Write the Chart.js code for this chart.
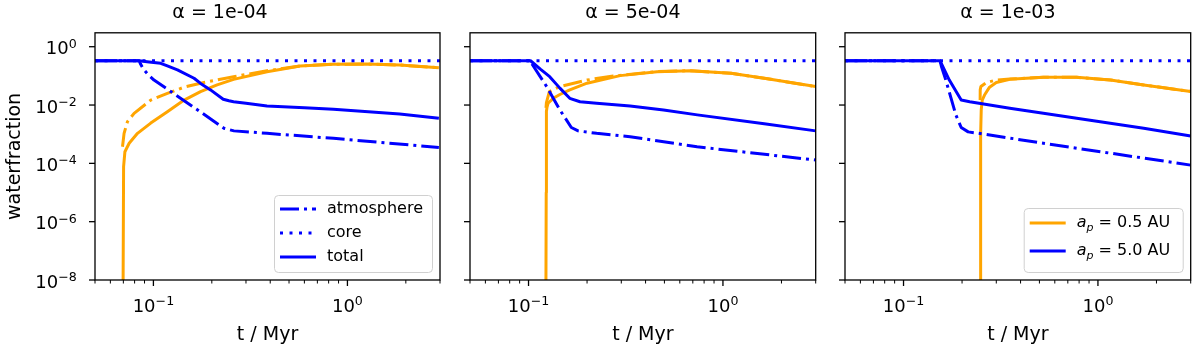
<!DOCTYPE html>
<html>
<head>
<meta charset="utf-8">
<script src="https://cdn.jsdelivr.net/npm/chart.js@4.4.1/dist/chart.umd.min.js"></script>
<style>
  html, body { margin: 0; padding: 0; background: #fff; }
  #wrap { position: relative; width: 1200px; height: 353px; }
  .panel { position: absolute; top: 0; height: 353px; }
</style>
</head>
<body>
<div id="wrap">
  <div class="panel" style="left:0;width:450px"><canvas id="c1" width="450" height="353"></canvas></div>
  <div class="panel" style="left:450px;width:375px"><canvas id="c2" width="375" height="353"></canvas></div>
  <div class="panel" style="left:825px;width:375px"><canvas id="c3" width="375" height="353"></canvas></div>
</div>
<script>
// axis ticks (labels are 10^exponent)
const xTickValues = [0.05, 0.06, 0.07, 0.08, 0.09, 0.1, 0.2, 0.3, 0.4, 0.5, 0.6, 0.7, 0.8, 0.9, 1, 2, 3];
const xMajorValues = [0.1, 1];
const xMajorExps = ['−1', '0'];
const yTickValues = [1e-8, 1e-6, 1e-4, 1e-2, 1];
const yTickExps = ['−8', '−6', '−4', '−2', '0'];
const panelTitles = ['α = 1e-04', 'α = 5e-04', 'α = 1e-03'];

// core water fraction (a_p = 5.0 AU)
const coreTime = [0.05, 3.0];
const coreWater = [0.33, 0.33];

// alpha = 1e-04, a_p = 5.0 AU
const a1FarTotalT = [0.05, 0.0844, 0.095, 0.109, 0.118, 0.133, 0.162, 0.175, 0.197, 0.229, 0.245, 0.259, 0.3, 0.385, 0.6, 0.847, 1.86, 2.96];
const a1FarTotalW = [0.33, 0.33, 0.30, 0.27, 0.22, 0.16, 0.083, 0.055, 0.033, 0.0158, 0.014, 0.013, 0.0115, 0.0093, 0.008, 0.0071, 0.0049, 0.0035];
const a1FarAtmT = [0.05, 0.0844, 0.086, 0.0877, 0.0895, 0.094, 0.1007, 0.118, 0.175, 0.231, 0.26, 0.385, 0.847, 2.96];
const a1FarAtmW = [0.33, 0.33, 0.25, 0.2, 0.16, 0.11, 0.072, 0.035, 0.0058, 0.0016, 0.0013, 0.00107, 0.00072, 0.00035];
// alpha = 1e-04, a_p = 0.5 AU
const a1NearTotalT = [0.0697, 0.0702, 0.0713, 0.075, 0.0828, 0.0969, 0.118, 0.144, 0.175, 0.213, 0.259, 0.385, 0.571, 0.847, 1.256, 1.86, 2.96];
const a1NearTotalW = [1e-9, 7.7e-5, 2.5e-4, 4.9e-4, 1.07e-3, 2.4e-3, 5.9e-3, 0.0148, 0.029, 0.049, 0.076, 0.139, 0.218, 0.25, 0.255, 0.235, 0.19];
const a1NearAtmT = [0.0693, 0.0706, 0.0735, 0.0795, 0.0969, 0.118, 0.144, 0.175, 0.259, 0.385, 0.571, 0.847, 1.256, 1.86, 2.96];
const a1NearAtmW = [3.7e-4, 1.07e-3, 2.7e-3, 5.2e-3, 0.0148, 0.025, 0.041, 0.056, 0.094, 0.15, 0.218, 0.25, 0.255, 0.235, 0.19];

// alpha = 5e-04, a_p = 5.0 AU
const a2FarTotalT = [0.05, 0.1024, 0.115, 0.1285, 0.145, 0.163, 0.184, 0.224, 0.333, 0.495, 0.738, 1.63, 3.0];
const a2FarTotalW = [0.33, 0.33, 0.17, 0.094, 0.038, 0.017, 0.013, 0.0115, 0.0093, 0.0068, 0.0046, 0.0023, 0.0013];
const a2FarAtmT = [0.05, 0.1024, 0.105, 0.124, 0.145, 0.166, 0.18, 0.224, 0.333, 0.736, 3.0];
const a2FarAtmW = [0.33, 0.33, 0.236, 0.043, 0.0068, 0.0017, 0.0013, 0.00107, 8.2e-4, 3.7e-4, 1.3e-4];
// alpha = 5e-04, a_p = 0.5 AU
const a2NearTotalT = [0.1228, 0.1233, 0.1236, 0.1245, 0.126, 0.134, 0.145, 0.163, 0.20, 0.296, 0.458, 0.68, 1.10, 1.63, 3.0];
const a2NearTotalW = [1e-9, 1e-5, 6e-3, 8.5e-3, 0.0115, 0.017, 0.023, 0.033, 0.056, 0.102, 0.138, 0.15, 0.122, 0.083, 0.043];
const a2NearAtmT = [0.1230, 0.1236, 0.128, 0.145, 0.20, 0.273, 0.296, 0.458, 0.68, 1.10, 1.63, 3.0];
const a2NearAtmW = [0.008, 0.012, 0.029, 0.043, 0.072, 0.10, 0.104, 0.14, 0.15, 0.122, 0.083, 0.043];

// alpha = 1e-03, a_p = 5.0 AU
const a3FarTotalT = [0.05, 0.154, 0.172, 0.198, 0.219, 0.352, 0.524, 0.778, 1.72, 3.0];
const a3FarTotalW = [0.33, 0.33, 0.072, 0.0148, 0.013, 0.0077, 0.0052, 0.0035, 0.0016, 8.7e-4];
const a3FarAtmT = [0.05, 0.154, 0.157, 0.165, 0.186, 0.198, 0.215, 0.237, 0.524, 3.0];
const a3FarAtmW = [0.33, 0.33, 0.2, 0.072, 0.0045, 0.0017, 0.0012, 0.0011, 4.9e-4, 8.7e-5];
// alpha = 1e-03, a_p = 0.5 AU
const a3NearTotalT = [0.2485, 0.2490, 0.2495, 0.2510, 0.254, 0.261, 0.277, 0.30, 0.352, 0.524, 0.778, 1.16, 1.72, 3.0];
const a3NearTotalW = [1e-9, 1e-6, 1e-3, 6.8e-3, 0.0148, 0.022, 0.041, 0.059, 0.076, 0.089, 0.089, 0.072, 0.049, 0.029];
const a3NearAtmT = [0.2478, 0.248, 0.250, 0.267, 0.30, 0.352, 0.524, 0.778, 1.16, 1.72, 3.0];
const a3NearAtmW = [0.015, 0.033, 0.043, 0.059, 0.072, 0.078, 0.089, 0.089, 0.072, 0.049, 0.029];

const BLUE = '#0000ff';
const ORANGE = '#ffa500';
const LW = 3;
const DASHDOT = [19, 5, 3, 5];
const DOTTED = [3, 6.5];
const FONT = "'DejaVu Sans', sans-serif";

Chart.defaults.font.family = FONT;
Chart.defaults.font.size = 16;
Chart.defaults.color = '#000';

const line = (t, w, color, dash) => ({
    data: t.map((x, i) => ({ x: x, y: w[i] })),
    borderColor: color,
    borderWidth: LW,
    borderDash: dash,
    borderCapStyle: 'butt',
    borderJoinStyle: 'round',
    pointRadius: 0,
    fill: false,
    tension: 0
});

// "10" with a raised exponent, like matplotlib's log tick labels
const drawPow = (ctx, exp, x, baseline, align) => {
    ctx.font = '18px ' + FONT;
    const wb = ctx.measureText('10').width;
    ctx.font = '12.6px ' + FONT;
    const we = ctx.measureText(exp).width;
    let x0 = align === 'right' ? x - wb - we : x - (wb + we) / 2;
    ctx.textAlign = 'left';
    ctx.textBaseline = 'alphabetic';
    ctx.font = '18px ' + FONT;
    ctx.fillText('10', x0, baseline);
    ctx.font = '12.6px ' + FONT;
    ctx.fillText(exp, x0 + wb, baseline - 6.7);
};

// frame, tick marks, tick labels and the in-axes legend
const axesDecor = {
    id: 'axesDecor',
    afterDraw(chart, args, opts) {
        const { ctx, chartArea: a, scales } = chart;
        ctx.save();
        ctx.strokeStyle = '#000';
        ctx.fillStyle = '#000';
        ctx.lineWidth = 1.3;
        ctx.strokeRect(a.left, a.top, a.right - a.left, a.bottom - a.top);
        scales.x.ticks.forEach(t => {
            const px = scales.x.getPixelForValue(t.value);
            const mi = xMajorValues.indexOf(t.value);
            ctx.lineWidth = mi >= 0 ? 1.3 : 1;
            ctx.beginPath();
            ctx.moveTo(px, a.bottom);
            ctx.lineTo(px, a.bottom + (mi >= 0 ? 6 : 3.5));
            ctx.stroke();
            if (mi >= 0) drawPow(ctx, xMajorExps[mi], px, a.bottom + 31.7, 'center');
        });
        ctx.lineWidth = 1.3;
        scales.y.ticks.forEach(t => {
            const py = scales.y.getPixelForValue(t.value);
            ctx.beginPath();
            ctx.moveTo(a.left, py);
            ctx.lineTo(a.left - 6, py);
            ctx.stroke();
            if (opts.yLabels) {
                drawPow(ctx, yTickExps[yTickValues.indexOf(t.value)], a.left - 18.3, py + 7.6, 'right');
            }
        });

        if (opts.items) {
            const w = opts.width, h = opts.height;
            const bx = a.right - 8 - w, by = a.bottom - 8 - h;
            ctx.fillStyle = 'rgba(255,255,255,0.8)';
            ctx.strokeStyle = '#d0d0d0';
            ctx.lineWidth = 1;
            ctx.beginPath();
            ctx.roundRect(bx + 0.5, by + 0.5, w, h, 4);
            ctx.fill();
            ctx.stroke();
            opts.items.forEach((it, i) => {
                const y = by + opts.rows[i];
                ctx.strokeStyle = it.color;
                ctx.lineWidth = LW;
                ctx.lineCap = 'butt';
                ctx.setLineDash(it.dash || []);
                ctx.beginPath();
                ctx.moveTo(bx + 6, y);
                ctx.lineTo(bx + 42, y);
                ctx.stroke();
                ctx.setLineDash([]);
                ctx.fillStyle = '#000';
                ctx.textBaseline = 'middle';
                ctx.textAlign = 'left';
                let x = bx + 53;
                if (it.sub) {
                    ctx.font = 'italic 16px ' + FONT;
                    ctx.fillText('a', x, y);
                    x += ctx.measureText('a').width;
                    ctx.font = 'italic 11px ' + FONT;
                    ctx.fillText('p', x, y + 5);
                    x += ctx.measureText('p').width;
                }
                ctx.font = '16px ' + FONT;
                ctx.fillText(it.text, x, y);
            });
        }
        ctx.restore();
    }
};

const makePanel = (id, idx, datasets, legend, padRight) => {
    legend.yLabels = idx === 0;
    new Chart(document.getElementById(id), {
        type: 'line',
        data: { datasets: datasets },
        plugins: [axesDecor],
        options: {
            responsive: false,
            animation: false,
            layout: { padding: { left: 0, right: padRight, top: 0, bottom: 0 } },
            plugins: {
                legend: { display: false },
                tooltip: { enabled: false },
                title: {
                    display: true,
                    text: panelTitles[idx],
                    font: { size: 19, weight: 'normal' },
                    padding: { top: 2, bottom: 8 },
                    color: '#000'
                },
                axesDecor: legend
            },
            scales: {
                x: {
                    type: 'logarithmic',
                    min: 0.05,
                    max: 3,
                    bounds: 'data',
                    afterBuildTicks: s => { s.ticks = xTickValues.map(v => ({ value: v })); },
                    afterFit: s => { s.height = 73; },
                    ticks: { display: false },
                    grid: { display: false, drawTicks: false },
                    border: { display: false },
                    title: { display: true, text: 't / Myr', font: { size: 19 }, padding: { top: 0, bottom: 6.6 } }
                },
                y: {
                    type: 'logarithmic',
                    min: 1e-8,
                    max: 3,
                    bounds: 'data',
                    afterBuildTicks: s => { s.ticks = yTickValues.map(v => ({ value: v })); },
                    afterFit: s => { s.width = idx === 0 ? 95 : 20; },
                    ticks: { display: false },
                    grid: { display: false, drawTicks: false },
                    border: { display: false },
                    title: { display: idx === 0, text: 'waterfraction', font: { size: 19 }, padding: { top: 4, bottom: 0 } }
                }
            }
        }
    });
};

makePanel('c1', 0, [
    line(coreTime, coreWater, BLUE, DOTTED),
    line(a1FarTotalT, a1FarTotalW, BLUE, []),
    line(a1FarAtmT, a1FarAtmW, BLUE, DASHDOT),
    line(a1NearTotalT, a1NearTotalW, ORANGE, []),
    line(a1NearAtmT, a1NearAtmW, ORANGE, DASHDOT)
], {
    width: 158, height: 77, rows: [14, 38, 62],
    items: [
        { text: 'atmosphere', color: BLUE, dash: DASHDOT },
        { text: 'core', color: BLUE, dash: DOTTED },
        { text: 'total', color: BLUE, dash: [] }
    ]
}, 10);

makePanel('c2', 1, [
    line(coreTime, coreWater, BLUE, DOTTED),
    line(a2FarTotalT, a2FarTotalW, BLUE, []),
    line(a2FarAtmT, a2FarAtmW, BLUE, DASHDOT),
    line(a2NearTotalT, a2NearTotalW, ORANGE, []),
    line(a2NearAtmT, a2NearAtmW, ORANGE, DASHDOT)
], {}, 9.3);

makePanel('c3', 2, [
    line(coreTime, coreWater, BLUE, DOTTED),
    line(a3FarTotalT, a3FarTotalW, BLUE, []),
    line(a3FarAtmT, a3FarAtmW, BLUE, DASHDOT),
    line(a3NearTotalT, a3NearTotalW, ORANGE, []),
    line(a3NearAtmT, a3NearAtmW, ORANGE, DASHDOT)
], {
    width: 159, height: 64, rows: [15, 43],
    items: [
        { text: ' = 0.5 AU', color: ORANGE, dash: [], sub: true },
        { text: ' = 5.0 AU', color: BLUE, dash: [], sub: true }
    ]
}, 9.3);
</script>
</body>
</html>
